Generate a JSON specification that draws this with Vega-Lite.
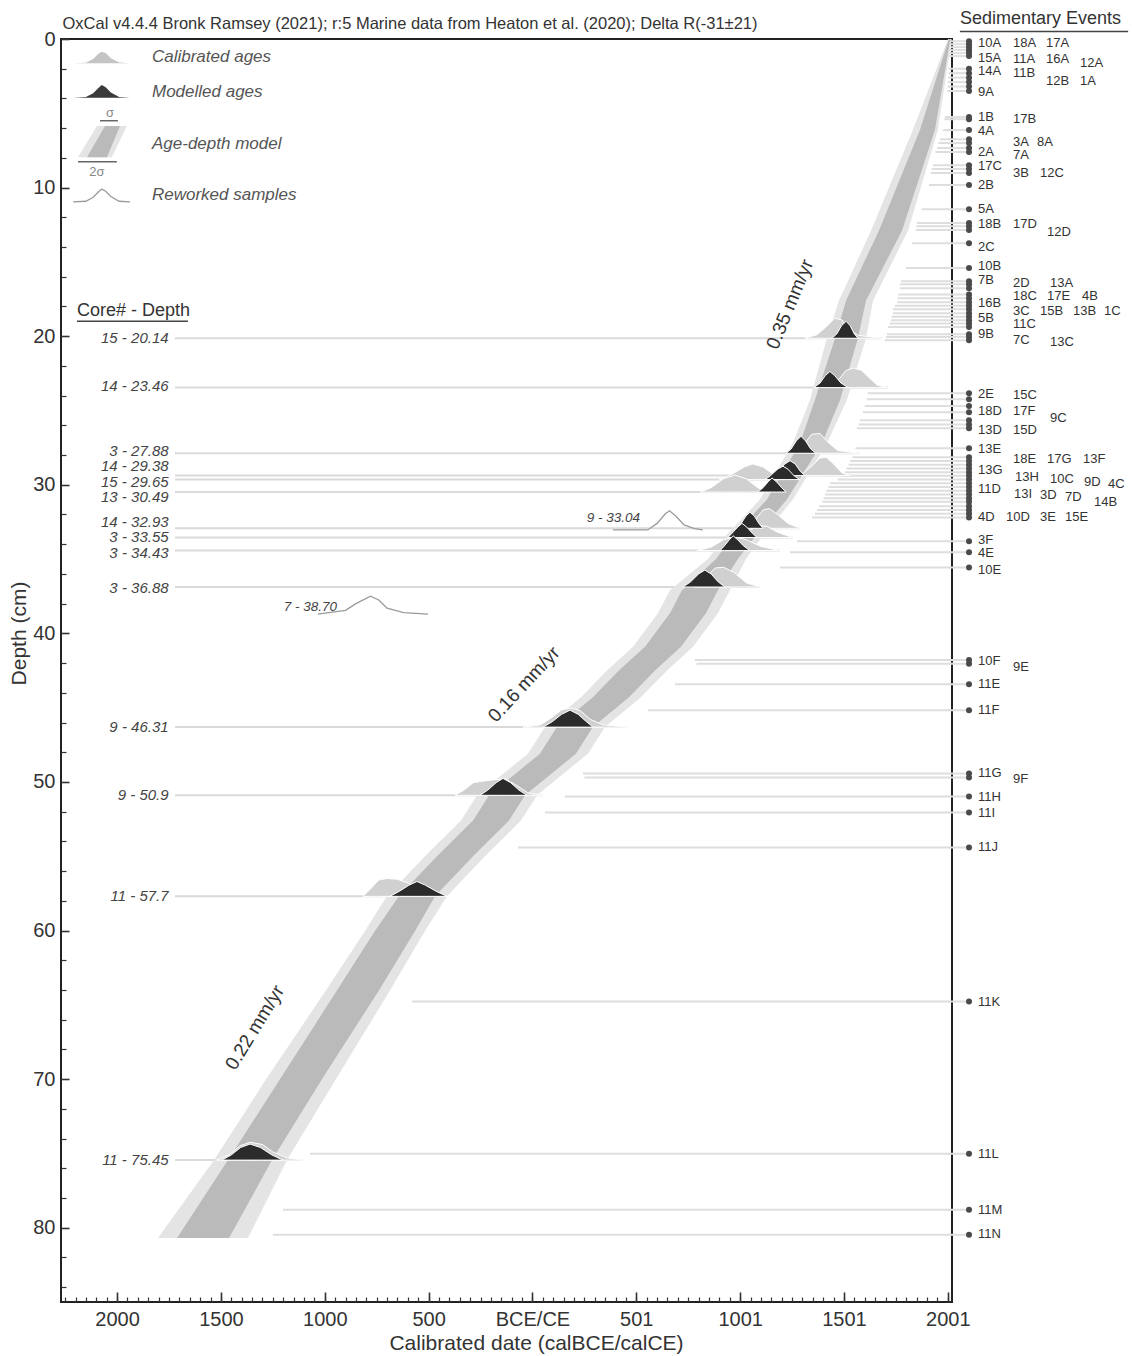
{
"$schema": "https://vega.github.io/schema/vega-lite/v6.json",
"width": 891, "height": 1263,
"autosize": {"type": "none"},
"padding": {"left": 61, "top": 39, "right": 180, "bottom": 54},
"background": "white",
"config": {"view": {"stroke": "#222", "strokeWidth": 2}},
"resolve": {"axis": {"x": "independent", "y": "independent"}},
"datasets": {
"samples": [
{"lab":"15 - 20.14","d":20.14,"ld":20.14,"end":1683},
{"lab":"14 - 23.46","d":23.46,"ld":23.35,"end":1712},
{"lab":"3 - 27.88","d":27.88,"ld":27.7,"end":1577},
{"lab":"14 - 29.38","d":29.38,"ld":28.76,"end":1530},
{"lab":"15 - 29.65","d":29.65,"ld":29.79,"end":1288},
{"lab":"13 - 30.49","d":30.49,"ld":30.84,"end":1221},
{"lab":"14 - 32.93","d":32.93,"ld":32.5,"end":1288},
{"lab":"3 - 33.55","d":33.55,"ld":33.53,"end":1254},
{"lab":"3 - 34.43","d":34.43,"ld":34.58,"end":1192},
{"lab":"3 - 36.88","d":36.88,"ld":36.97,"end":1095},
{"lab":"9 - 46.31","d":46.31,"ld":46.31,"end":455},
{"lab":"9 - 50.9","d":50.9,"ld":50.9,"end":51},
{"lab":"11 - 57.7","d":57.7,"ld":57.7,"end":-412},
{"lab":"11 - 75.45","d":75.45,"ld":75.45,"end":-1104}
],
"evlines": [
{"d":0.15,"s":2008},{"d":0.35,"s":2008},{"d":0.55,"s":2007},{"d":0.75,"s":2007},{"d":0.95,"s":2006},{"d":1.15,"s":2006},
{"d":2.0,"s":2003},{"d":2.3,"s":2002},{"d":2.6,"s":2001},{"d":2.9,"s":2000},{"d":3.2,"s":1999},{"d":3.5,"s":1998},
{"d":5.25,"s":1986},{"d":5.4,"s":1983},{"d":6.13,"s":1977},{"d":6.75,"s":1962},{"d":7.0,"s":1955},{"d":7.34,"s":1948},{"d":7.6,"s":1940},
{"d":8.5,"s":1928},{"d":8.75,"s":1922},{"d":9.02,"s":1919},{"d":9.83,"s":1909},{"d":11.45,"s":1875},{"d":12.39,"s":1851},{"d":12.6,"s":1849},
{"d":12.86,"s":1846},{"d":13.74,"s":1827},{"d":15.42,"s":1798},{"d":16.3,"s":1775},{"d":16.5,"s":1769},{"d":16.77,"s":1769},{"d":17.2,"s":1762},
{"d":17.45,"s":1758},{"d":17.71,"s":1755},{"d":17.95,"s":1745},{"d":18.18,"s":1736},{"d":18.45,"s":1736},{"d":18.7,"s":1730},{"d":18.92,"s":1726},
{"d":19.15,"s":1720},{"d":19.39,"s":1712},{"d":19.87,"s":1707},{"d":20.05,"s":1702},{"d":20.27,"s":1697},
{"d":23.84,"s":1615},{"d":24.24,"s":1610},{"d":24.7,"s":1600},{"d":25.12,"s":1591},{"d":25.66,"s":1577},{"d":25.95,"s":1570},{"d":26.2,"s":1562},{"d":27.54,"s":1555},
{"d":28.15,"s":1540},{"d":28.4,"s":1530},{"d":28.65,"s":1522},{"d":28.9,"s":1512},{"d":29.15,"s":1505},{"d":29.4,"s":1495},{"d":29.65,"s":1470},
{"d":29.9,"s":1432},{"d":30.15,"s":1425},{"d":30.4,"s":1415},{"d":30.65,"s":1408},{"d":30.9,"s":1402},{"d":31.15,"s":1395},{"d":31.45,"s":1380},
{"d":31.7,"s":1370},{"d":31.95,"s":1360},{"d":32.2,"s":1346},
{"d":33.8,"s":1274},{"d":34.55,"s":1240},{"d":35.56,"s":1192},
{"d":41.8,"s":782},{"d":42.05,"s":790},{"d":43.43,"s":686},{"d":45.18,"s":556},{"d":49.43,"s":243},{"d":49.7,"s":250},
{"d":50.98,"s":156},{"d":52.05,"s":60},{"d":54.41,"s":-70},{"d":64.78,"s":-580},{"d":75.02,"s":-1071},{"d":78.79,"s":-1201},{"d":80.47,"s":-1250}
],
"evtext": [
{"t":"10A","x":2145,"d":0.25},{"t":"18A","x":2314,"d":0.25},{"t":"17A","x":2473,"d":0.25},
{"t":"15A","x":2145,"d":1.3},{"t":"11A","x":2314,"d":1.35},{"t":"16A","x":2473,"d":1.35},{"t":"12A","x":2636,"d":1.62},
{"t":"14A","x":2145,"d":2.15},{"t":"11B","x":2314,"d":2.28},{"t":"12B","x":2473,"d":2.81},{"t":"1A","x":2636,"d":2.81},
{"t":"9A","x":2145,"d":3.55},
{"t":"1B","x":2145,"d":5.27},{"t":"17B","x":2314,"d":5.39},
{"t":"4A","x":2145,"d":6.2},
{"t":"3A","x":2314,"d":6.92},{"t":"8A","x":2429,"d":6.92},
{"t":"2A","x":2145,"d":7.59},{"t":"7A","x":2314,"d":7.8},
{"t":"17C","x":2145,"d":8.55},{"t":"3B","x":2314,"d":9.05},{"t":"12C","x":2444,"d":9.05},
{"t":"2B","x":2145,"d":9.83},
{"t":"5A","x":2145,"d":11.47},
{"t":"18B","x":2145,"d":12.46},{"t":"17D","x":2314,"d":12.46},{"t":"12D","x":2477,"d":12.98},
{"t":"2C","x":2145,"d":14.03},
{"t":"10B","x":2145,"d":15.27},
{"t":"7B","x":2145,"d":16.23},{"t":"2D","x":2314,"d":16.45},{"t":"13A","x":2492,"d":16.4},
{"t":"18C","x":2314,"d":17.3},{"t":"17E","x":2477,"d":17.3},{"t":"4B","x":2646,"d":17.3},
{"t":"16B","x":2145,"d":17.8},
{"t":"3C","x":2314,"d":18.3},{"t":"15B","x":2444,"d":18.3},{"t":"13B","x":2603,"d":18.3},{"t":"1C","x":2752,"d":18.3},
{"t":"5B","x":2145,"d":18.81},
{"t":"11C","x":2314,"d":19.15},
{"t":"9B","x":2145,"d":19.82},
{"t":"7C","x":2314,"d":20.27},{"t":"13C","x":2492,"d":20.38},
{"t":"2E","x":2145,"d":23.86},{"t":"15C","x":2314,"d":23.97},
{"t":"18D","x":2145,"d":25.03},{"t":"17F","x":2314,"d":25.03},{"t":"9C","x":2492,"d":25.48},
{"t":"13D","x":2145,"d":26.33},{"t":"15D","x":2314,"d":26.33},
{"t":"13E","x":2145,"d":27.56},
{"t":"18E","x":2314,"d":28.24},{"t":"17G","x":2477,"d":28.24},{"t":"13F","x":2651,"d":28.24},
{"t":"13G","x":2145,"d":29.02},
{"t":"13H","x":2323,"d":29.47},{"t":"10C","x":2492,"d":29.58},{"t":"9D","x":2656,"d":29.8},{"t":"4C","x":2771,"d":29.97},
{"t":"11D","x":2145,"d":30.26},
{"t":"13I","x":2319,"d":30.59},{"t":"3D","x":2444,"d":30.71},{"t":"7D","x":2564,"d":30.82},{"t":"14B","x":2704,"d":31.16},
{"t":"4D","x":2145,"d":32.17},{"t":"10D","x":2280,"d":32.17},{"t":"3E","x":2444,"d":32.17},{"t":"15E","x":2564,"d":32.17},
{"t":"3F","x":2145,"d":33.74},{"t":"4E","x":2145,"d":34.59},{"t":"10E","x":2145,"d":35.76},
{"t":"10F","x":2145,"d":41.89},{"t":"9E","x":2314,"d":42.29},
{"t":"11E","x":2145,"d":43.43},{"t":"11F","x":2145,"d":45.18},
{"t":"11G","x":2145,"d":49.43},{"t":"9F","x":2314,"d":49.83},
{"t":"11H","x":2145,"d":50.98},{"t":"11I","x":2145,"d":52.12},{"t":"11J","x":2145,"d":54.41},
{"t":"11K","x":2145,"d":64.78},{"t":"11L","x":2145,"d":75.02},{"t":"11M","x":2145,"d":78.79},{"t":"11N","x":2145,"d":80.4}
],
"band": [
{"d":0,"a":2001,"b":2005,"c":2012,"e":2018},
{"d":6.1,"a":1832,"b":1866,"c":1938,"e":1952},
{"d":12.9,"a":1630,"b":1668,"c":1779,"e":1808},
{"d":17.6,"a":1476,"b":1510,"c":1606,"e":1640},
{"d":20.14,"a":1418,"b":1457,"c":1567,"e":1606},
{"d":24.3,"a":1336,"b":1360,"c":1481,"e":1514},
{"d":27.2,"a":1254,"b":1288,"c":1394,"e":1418},
{"d":31.0,"a":1095,"b":1129,"c":1225,"e":1254},
{"d":33.5,"a":927,"b":961,"c":1071,"e":1105},
{"d":35,"a":845,"b":884,"c":989,"e":1028},
{"d":37.1,"a":662,"b":720,"c":893,"e":951},
{"d":38.65,"a":604,"b":662,"c":835,"e":893},
{"d":40.9,"a":484,"b":542,"c":715,"e":773},
{"d":42.5,"a":359,"b":416,"c":590,"e":648},
{"d":44.3,"a":234,"b":291,"c":465,"e":522},
{"d":46.3,"a":60,"b":118,"c":291,"e":349},
{"d":48.1,"a":-22,"b":36,"c":209,"e":267},
{"d":50.9,"a":-267,"b":-209,"c":-36,"e":22},
{"d":52.6,"a":-344,"b":-286,"c":-113,"e":-55},
{"d":55,"a":-518,"b":-460,"c":-286,"e":-229},
{"d":57.7,"a":-701,"b":-643,"c":-469,"e":-412},
{"d":60,"a":-805,"b":-757,"c":-564,"e":-516},
{"d":64,"a":-993,"b":-940,"c":-738,"e":-685},
{"d":70,"a":-1282,"b":-1215,"c":-1013,"e":-946},
{"d":75.45,"a":-1533,"b":-1466,"c":-1254,"e":-1182},
{"d":80.7,"a":-1803,"b":-1711,"c":-1461,"e":-1370}
],
"cal": [
{"id":"20.14","x":1312,"t":20.14,"b":20.14},{"id":"20.14","x":1370,"t":19.9,"b":20.14},{"id":"20.14","x":1420,"t":19.3,"b":20.14},{"id":"20.14","x":1455,"t":18.8,"b":20.14},{"id":"20.14","x":1490,"t":18.9,"b":20.14},{"id":"20.14","x":1520,"t":19.5,"b":20.14},{"id":"20.14","x":1570,"t":19.95,"b":20.14},{"id":"20.14","x":1683,"t":20.14,"b":20.14},
{"id":"23.46","x":1400,"t":23.46,"b":23.46},{"id":"23.46","x":1470,"t":23.0,"b":23.46},{"id":"23.46","x":1510,"t":22.3,"b":23.46},{"id":"23.46","x":1545,"t":22.15,"b":23.46},{"id":"23.46","x":1585,"t":22.3,"b":23.46},{"id":"23.46","x":1625,"t":22.85,"b":23.46},{"id":"23.46","x":1660,"t":23.3,"b":23.46},{"id":"23.46","x":1712,"t":23.46,"b":23.46},
{"id":"27.88","x":1240,"t":27.88,"b":27.88},{"id":"27.88","x":1300,"t":27.4,"b":27.88},{"id":"27.88","x":1345,"t":26.6,"b":27.88},{"id":"27.88","x":1385,"t":26.55,"b":27.88},{"id":"27.88","x":1420,"t":27.1,"b":27.88},{"id":"27.88","x":1470,"t":27.7,"b":27.88},{"id":"27.88","x":1577,"t":27.88,"b":27.88},
{"id":"29.38","x":1290,"t":29.38,"b":29.38},{"id":"29.38","x":1340,"t":28.8,"b":29.38},{"id":"29.38","x":1385,"t":28.2,"b":29.38},{"id":"29.38","x":1415,"t":28.15,"b":29.38},{"id":"29.38","x":1450,"t":28.6,"b":29.38},{"id":"29.38","x":1490,"t":29.2,"b":29.38},{"id":"29.38","x":1530,"t":29.38,"b":29.38},
{"id":"29.65","x":900,"t":29.65,"b":29.65},{"id":"29.65","x":960,"t":29.3,"b":29.65},{"id":"29.65","x":1020,"t":28.8,"b":29.65},{"id":"29.65","x":1060,"t":28.6,"b":29.65},{"id":"29.65","x":1110,"t":28.8,"b":29.65},{"id":"29.65","x":1160,"t":29.3,"b":29.65},{"id":"29.65","x":1220,"t":29.65,"b":29.65},
{"id":"30.49","x":808,"t":30.49,"b":30.49},{"id":"30.49","x":860,"t":30.2,"b":30.49},{"id":"30.49","x":920,"t":29.6,"b":30.49},{"id":"30.49","x":975,"t":29.35,"b":30.49},{"id":"30.49","x":1030,"t":29.6,"b":30.49},{"id":"30.49","x":1085,"t":30.2,"b":30.49},{"id":"30.49","x":1130,"t":30.49,"b":30.49},
{"id":"32.93","x":1030,"t":32.93,"b":32.93},{"id":"32.93","x":1070,"t":32.4,"b":32.93},{"id":"32.93","x":1110,"t":31.7,"b":32.93},{"id":"32.93","x":1140,"t":31.6,"b":32.93},{"id":"32.93","x":1180,"t":32.0,"b":32.93},{"id":"32.93","x":1230,"t":32.6,"b":32.93},{"id":"32.93","x":1288,"t":32.93,"b":32.93},
{"id":"33.55","x":980,"t":33.55,"b":33.55},{"id":"33.55","x":1040,"t":33.1,"b":33.55},{"id":"33.55","x":1090,"t":32.75,"b":33.55},{"id":"33.55","x":1130,"t":32.8,"b":33.55},{"id":"33.55","x":1180,"t":33.2,"b":33.55},{"id":"33.55","x":1254,"t":33.55,"b":33.55},
{"id":"34.43","x":792,"t":34.43,"b":34.43},{"id":"34.43","x":860,"t":34.2,"b":34.43},{"id":"34.43","x":920,"t":33.7,"b":34.43},{"id":"34.43","x":975,"t":33.5,"b":34.43},{"id":"34.43","x":1030,"t":33.7,"b":34.43},{"id":"34.43","x":1100,"t":34.15,"b":34.43},{"id":"34.43","x":1192,"t":34.43,"b":34.43},
{"id":"36.88","x":780,"t":36.88,"b":36.88},{"id":"36.88","x":830,"t":36.3,"b":36.88},{"id":"36.88","x":880,"t":35.6,"b":36.88},{"id":"36.88","x":920,"t":35.55,"b":36.88},{"id":"36.88","x":970,"t":35.9,"b":36.88},{"id":"36.88","x":1030,"t":36.6,"b":36.88},{"id":"36.88","x":1095,"t":36.88,"b":36.88},
{"id":"46.31","x":-46,"t":46.31,"b":46.31},{"id":"46.31","x":40,"t":46.15,"b":46.31},{"id":"46.31","x":90,"t":45.7,"b":46.31},{"id":"46.31","x":140,"t":45.15,"b":46.31},{"id":"46.31","x":185,"t":45.03,"b":46.31},{"id":"46.31","x":230,"t":45.2,"b":46.31},{"id":"46.31","x":280,"t":45.8,"b":46.31},{"id":"46.31","x":340,"t":46.15,"b":46.31},{"id":"46.31","x":455,"t":46.31,"b":46.31},
{"id":"50.9","x":-373,"t":50.9,"b":50.9},{"id":"50.9","x":-330,"t":50.55,"b":50.9},{"id":"50.9","x":-285,"t":50.05,"b":50.9},{"id":"50.9","x":-240,"t":49.95,"b":50.9},{"id":"50.9","x":-180,"t":49.85,"b":50.9},{"id":"50.9","x":-130,"t":49.8,"b":50.9},{"id":"50.9","x":-80,"t":50.2,"b":50.9},{"id":"50.9","x":-20,"t":50.75,"b":50.9},{"id":"50.9","x":51,"t":50.9,"b":50.9},
{"id":"57.7","x":-816,"t":57.7,"b":57.7},{"id":"57.7","x":-780,"t":57.2,"b":57.7},{"id":"57.7","x":-740,"t":56.6,"b":57.7},{"id":"57.7","x":-700,"t":56.5,"b":57.7},{"id":"57.7","x":-650,"t":56.55,"b":57.7},{"id":"57.7","x":-600,"t":56.8,"b":57.7},{"id":"57.7","x":-520,"t":57.4,"b":57.7},{"id":"57.7","x":-412,"t":57.7,"b":57.7},
{"id":"75.45","x":-1520,"t":75.45,"b":75.45},{"id":"75.45","x":-1460,"t":75.1,"b":75.45},{"id":"75.45","x":-1410,"t":74.5,"b":75.45},{"id":"75.45","x":-1360,"t":74.25,"b":75.45},{"id":"75.45","x":-1300,"t":74.4,"b":75.45},{"id":"75.45","x":-1250,"t":74.9,"b":75.45},{"id":"75.45","x":-1180,"t":75.3,"b":75.45},{"id":"75.45","x":-1104,"t":75.45,"b":75.45}
],
"mod": [
{"id":"20.14","x":1442,"t":20.14,"b":20.14},{"id":"20.14","x":1465,"t":19.85,"b":20.14},{"id":"20.14","x":1488,"t":19.3,"b":20.14},{"id":"20.14","x":1510,"t":19.0,"b":20.14},{"id":"20.14","x":1530,"t":19.3,"b":20.14},{"id":"20.14","x":1550,"t":19.85,"b":20.14},{"id":"20.14","x":1567,"t":20.14,"b":20.14},
{"id":"23.46","x":1355,"t":23.46,"b":23.46},{"id":"23.46","x":1385,"t":23.15,"b":23.46},{"id":"23.46","x":1410,"t":22.65,"b":23.46},{"id":"23.46","x":1432,"t":22.38,"b":23.46},{"id":"23.46","x":1455,"t":22.65,"b":23.46},{"id":"23.46","x":1485,"t":23.15,"b":23.46},{"id":"23.46","x":1519,"t":23.46,"b":23.46},
{"id":"27.88","x":1221,"t":27.88,"b":27.88},{"id":"27.88","x":1245,"t":27.6,"b":27.88},{"id":"27.88","x":1270,"t":27.05,"b":27.88},{"id":"27.88","x":1293,"t":26.74,"b":27.88},{"id":"27.88","x":1315,"t":27.05,"b":27.88},{"id":"27.88","x":1340,"t":27.6,"b":27.88},{"id":"27.88","x":1365,"t":27.88,"b":27.88},
{"id":"29.38","x":1153,"t":29.38,"b":29.38},{"id":"29.38","x":1180,"t":29.1,"b":29.38},{"id":"29.38","x":1215,"t":28.6,"b":29.38},{"id":"29.38","x":1240,"t":28.38,"b":29.38},{"id":"29.38","x":1265,"t":28.6,"b":29.38},{"id":"29.38","x":1290,"t":29.1,"b":29.38},{"id":"29.38","x":1312,"t":29.38,"b":29.38},
{"id":"29.65","x":1120,"t":29.65,"b":29.65},{"id":"29.65","x":1145,"t":29.4,"b":29.65},{"id":"29.65","x":1180,"t":28.95,"b":29.65},{"id":"29.65","x":1206,"t":28.75,"b":29.65},{"id":"29.65","x":1230,"t":28.95,"b":29.65},{"id":"29.65","x":1260,"t":29.4,"b":29.65},{"id":"29.65","x":1288,"t":29.65,"b":29.65},
{"id":"30.49","x":1085,"t":30.49,"b":30.49},{"id":"30.49","x":1110,"t":30.2,"b":30.49},{"id":"30.49","x":1135,"t":29.8,"b":30.49},{"id":"30.49","x":1153,"t":29.54,"b":30.49},{"id":"30.49","x":1175,"t":29.8,"b":30.49},{"id":"30.49","x":1200,"t":30.2,"b":30.49},{"id":"30.49","x":1221,"t":30.49,"b":30.49},
{"id":"32.93","x":985,"t":32.93,"b":32.93},{"id":"32.93","x":1005,"t":32.6,"b":32.93},{"id":"32.93","x":1028,"t":32.1,"b":32.93},{"id":"32.93","x":1047,"t":31.85,"b":32.93},{"id":"32.93","x":1068,"t":32.1,"b":32.93},{"id":"32.93","x":1090,"t":32.6,"b":32.93},{"id":"32.93","x":1110,"t":32.93,"b":32.93},
{"id":"33.55","x":941,"t":33.55,"b":33.55},{"id":"33.55","x":962,"t":33.25,"b":33.55},{"id":"33.55","x":988,"t":32.85,"b":33.55},{"id":"33.55","x":1009,"t":32.6,"b":33.55},{"id":"33.55","x":1032,"t":32.85,"b":33.55},{"id":"33.55","x":1058,"t":33.25,"b":33.55},{"id":"33.55","x":1081,"t":33.55,"b":33.55},
{"id":"34.43","x":903,"t":34.43,"b":34.43},{"id":"34.43","x":925,"t":34.1,"b":34.43},{"id":"34.43","x":948,"t":33.7,"b":34.43},{"id":"34.43","x":966,"t":33.43,"b":34.43},{"id":"34.43","x":988,"t":33.7,"b":34.43},{"id":"34.43","x":1015,"t":34.1,"b":34.43},{"id":"34.43","x":1047,"t":34.43,"b":34.43},
{"id":"36.88","x":724,"t":36.88,"b":36.88},{"id":"36.88","x":760,"t":36.55,"b":36.88},{"id":"36.88","x":800,"t":36.0,"b":36.88},{"id":"36.88","x":830,"t":35.74,"b":36.88},{"id":"36.88","x":860,"t":36.0,"b":36.88},{"id":"36.88","x":895,"t":36.55,"b":36.88},{"id":"36.88","x":927,"t":36.88,"b":36.88},
{"id":"46.31","x":51,"t":46.31,"b":46.31},{"id":"46.31","x":95,"t":45.95,"b":46.31},{"id":"46.31","x":140,"t":45.45,"b":46.31},{"id":"46.31","x":181,"t":45.17,"b":46.31},{"id":"46.31","x":220,"t":45.45,"b":46.31},{"id":"46.31","x":260,"t":45.95,"b":46.31},{"id":"46.31","x":291,"t":46.31,"b":46.31},
{"id":"50.9","x":-253,"t":50.9,"b":50.9},{"id":"50.9","x":-215,"t":50.55,"b":50.9},{"id":"50.9","x":-175,"t":50.05,"b":50.9},{"id":"50.9","x":-142,"t":49.76,"b":50.9},{"id":"50.9","x":-105,"t":50.05,"b":50.9},{"id":"50.9","x":-65,"t":50.55,"b":50.9},{"id":"50.9","x":-26,"t":50.9,"b":50.9},
{"id":"57.7","x":-686,"t":57.7,"b":57.7},{"id":"57.7","x":-640,"t":57.35,"b":57.7},{"id":"57.7","x":-595,"t":56.95,"b":57.7},{"id":"57.7","x":-556,"t":56.7,"b":57.7},{"id":"57.7","x":-515,"t":56.95,"b":57.7},{"id":"57.7","x":-465,"t":57.35,"b":57.7},{"id":"57.7","x":-412,"t":57.7,"b":57.7},
{"id":"75.45","x":-1495,"t":75.45,"b":75.45},{"id":"75.45","x":-1450,"t":75.1,"b":75.45},{"id":"75.45","x":-1405,"t":74.6,"b":75.45},{"id":"75.45","x":-1360,"t":74.37,"b":75.45},{"id":"75.45","x":-1310,"t":74.6,"b":75.45},{"id":"75.45","x":-1255,"t":75.1,"b":75.45},{"id":"75.45","x":-1201,"t":75.45,"b":75.45}
],
"rew": [
{"id":"33.04","x":387,"t":33.04},{"id":"33.04","x":555,"t":33.04},{"id":"33.04","x":600,"t":32.6},{"id":"33.04","x":640,"t":31.95},{"id":"33.04","x":660,"t":31.75},{"id":"33.04","x":690,"t":32.1},{"id":"33.04","x":730,"t":32.7},{"id":"33.04","x":780,"t":32.95},{"id":"33.04","x":820,"t":33.04},
{"id":"38.70","x":-1033,"t":38.7},{"id":"38.70","x":-900,"t":38.45},{"id":"38.70","x":-850,"t":38.0},{"id":"38.70","x":-780,"t":37.5},{"id":"38.70","x":-740,"t":37.75},{"id":"38.70","x":-700,"t":38.3},{"id":"38.70","x":-620,"t":38.6},{"id":"38.70","x":-503,"t":38.7}
],
"legcal": [
{"x":-2212,"t":1.64,"b":1.64},{"x":-2150,"t":1.6,"b":1.64},{"x":-2115,"t":1.35,"b":1.64},{"x":-2090,"t":1.0,"b":1.64},{"x":-2074,"t":0.85,"b":1.64},{"x":-2055,"t":0.95,"b":1.64},{"x":-2030,"t":1.3,"b":1.64},{"x":-1990,"t":1.58,"b":1.64},{"x":-1938,"t":1.64,"b":1.64}
],
"legmod": [
{"x":-2212,"t":3.95,"b":3.95},{"x":-2150,"t":3.9,"b":3.95},{"x":-2115,"t":3.65,"b":3.95},{"x":-2090,"t":3.3,"b":3.95},{"x":-2074,"t":3.1,"b":3.95},{"x":-2055,"t":3.25,"b":3.95},{"x":-2030,"t":3.6,"b":3.95},{"x":-1990,"t":3.9,"b":3.95},{"x":-1938,"t":3.95,"b":3.95}
],
"legrew": [
{"x":-2212,"t":10.96},{"x":-2150,"t":10.92},{"x":-2115,"t":10.65},{"x":-2090,"t":10.3},{"x":-2074,"t":10.1},{"x":-2055,"t":10.25},{"x":-2030,"t":10.6},{"x":-1990,"t":10.92},{"x":-1938,"t":10.96}
],
"legband": [
{"d":5.86,"l2":-2097,"l1":-2058,"r1":-1986,"r2":-1953},
{"d":7.95,"l2":-2188,"l1":-2145,"r1":-2049,"r2":-2025}
],
"legtext": [
{"t":"Calibrated ages","x":-1832,"d":1.19},
{"t":"Modelled ages","x":-1832,"d":3.55},
{"t":"Age-depth model","x":-1832,"d":7.07},
{"t":"Reworked samples","x":-1832,"d":10.5}
],
"segs": [
{"x":-2082,"x2":-1996,"d":5.5},
{"x":-2188,"x2":-2001,"d":8.26}
],
"sig": [
{"t":"σ","x":-2034,"d":5.0},
{"t":"2σ","x":-2097,"d":8.95}
],
"rwlab": [
{"t":"9 - 33.04","x":518,"d":32.26},
{"t":"7 - 38.70","x":-941,"d":38.25}
],
"heads": [
{"t":"Sedimentary Events","x":2058,"d":-1.35},
{"t":"Core# - Depth","x":-2193,"d":18.32}
],
"underl": [
{"x":2058,"x2":2868,"d":-0.5},
{"x":-2193,"x2":-1659,"d":19.0}
]
},
"layer": [
{"data":{"name":"samples"},"mark":{"type":"rule","color":"#dadada","strokeWidth":2},
 "encoding":{
  "x":{"field":"end","type":"quantitative","scale":{"domain":[-2270,2020],"nice":false,"zero":false},
   "axis":{"orient":"bottom","values":[-2000,-1500,-1000,-500,0,500,1000,1500,2000],
    "labelExpr":"datum.value < 0 ? '' + (-datum.value) : (datum.value == 0 ? 'BCE/CE' : '' + (datum.value + 1))",
    "tickSize":-10,"tickWidth":1.6,"tickColor":"#333","domain":false,"grid":false,"labelPadding":17,
    "labelFont":"Liberation Sans","labelFontSize":20,"labelColor":"#333","labelFlush":false,"labelOverlap":false,
    "title":"Calibrated date (calBCE/calCE)","titleFont":"Liberation Sans","titleFontSize":21,"titleFontWeight":"normal","titleColor":"#333","titlePadding":3,"titleX":475}},
  "x2":{"datum":-1721},
  "y":{"field":"d","type":"quantitative","scale":{"domain":[0,85],"reverse":true,"nice":false,"zero":false},
   "axis":{"orient":"left","values":[0,10,20,30,40,50,60,70,80],"tickSize":-8,"tickWidth":1.6,"tickColor":"#333","domain":false,"grid":false,"labelPadding":14,
    "labelFont":"Liberation Sans","labelFontSize":20,"labelColor":"#333","labelFlush":false,"labelOverlap":false,
    "title":"Depth (cm)","titleFont":"Liberation Sans","titleFontSize":21,"titleFontWeight":"normal","titleColor":"#333","titlePadding":3,"titleY":594}}
 }},
{"data":{"name":"evlines"},"mark":{"type":"rule","color":"#dedede","strokeWidth":2},
 "encoding":{
  "x":{"field":"s","type":"quantitative",
   "axis":{"orient":"bottom","values":[-2250,-2200,-2150,-2100,-2050,-2000,-1950,-1900,-1850,-1800,-1750,-1700,-1650,-1600,-1550,-1500,-1450,-1400,-1350,-1300,-1250,-1200,-1150,-1100,-1050,-1000,-950,-900,-850,-800,-750,-700,-650,-600,-550,-500,-450,-400,-350,-300,-250,-200,-150,-100,-50,0,50,100,150,200,250,300,350,400,450,500,550,600,650,700,750,800,850,900,950,1000,1050,1100,1150,1200,1250,1300,1350,1400,1450,1500,1550,1600,1650,1700,1750,1800,1850,1900,1950,2000],
    "tickSize":-5,"tickWidth":1.2,"tickColor":"#333","labels":false,"domain":false,"grid":false,"title":null}},
  "x2":{"datum":2102},
  "y":{"field":"d","type":"quantitative",
   "axis":{"orient":"left","values":[2,4,6,8,12,14,16,18,22,24,26,28,32,34,36,38,42,44,46,48,52,54,56,58,62,64,66,68,72,74,76,78,82,84],
    "tickSize":-5,"tickWidth":1.2,"tickColor":"#333","labels":false,"domain":false,"grid":false,"title":null}}
 }},
{"data":{"name":"band"},"mark":{"type":"area","orient":"horizontal","color":"#e4e4e4"},
 "encoding":{"y":{"field":"d","type":"quantitative","axis":null},"x":{"field":"a","type":"quantitative","axis":null},"x2":{"field":"e"}}},
{"data":{"name":"band"},"mark":{"type":"area","orient":"horizontal","color":"#bababa"},
 "encoding":{"y":{"field":"d","type":"quantitative","axis":null},"x":{"field":"b","type":"quantitative","axis":null},"x2":{"field":"c"}}},
{"data":{"name":"cal"},"mark":{"type":"area","orient":"vertical","color":"#d0d0d0","stroke":"white","strokeWidth":1},
 "encoding":{"x":{"field":"x","type":"quantitative","axis":null},"y":{"field":"t","type":"quantitative","axis":null},"y2":{"field":"b"},"detail":{"field":"id","type":"nominal"}}},
{"data":{"name":"mod"},"mark":{"type":"area","orient":"vertical","color":"#2b2b2b","stroke":"white","strokeWidth":1},
 "encoding":{"x":{"field":"x","type":"quantitative","axis":null},"y":{"field":"t","type":"quantitative","axis":null},"y2":{"field":"b"},"detail":{"field":"id","type":"nominal"}}},
{"data":{"name":"rew"},"mark":{"type":"line","color":"#9a9a9a","strokeWidth":1.3},
 "encoding":{"x":{"field":"x","type":"quantitative","axis":null},"y":{"field":"t","type":"quantitative","axis":null},"detail":{"field":"id","type":"nominal"}}},
{"data":{"name":"legcal"},"mark":{"type":"area","orient":"vertical","color":"#c4c4c4"},
 "encoding":{"x":{"field":"x","type":"quantitative","axis":null},"y":{"field":"t","type":"quantitative","axis":null},"y2":{"field":"b"}}},
{"data":{"name":"legmod"},"mark":{"type":"area","orient":"vertical","color":"#3a3a3a"},
 "encoding":{"x":{"field":"x","type":"quantitative","axis":null},"y":{"field":"t","type":"quantitative","axis":null},"y2":{"field":"b"}}},
{"data":{"name":"legrew"},"mark":{"type":"line","color":"#9a9a9a","strokeWidth":1.3},
 "encoding":{"x":{"field":"x","type":"quantitative","axis":null},"y":{"field":"t","type":"quantitative","axis":null}}},
{"data":{"name":"legband"},"mark":{"type":"area","orient":"horizontal","color":"#e4e4e4"},
 "encoding":{"y":{"field":"d","type":"quantitative","axis":null},"x":{"field":"l2","type":"quantitative","axis":null},"x2":{"field":"r2"}}},
{"data":{"name":"legband"},"mark":{"type":"area","orient":"horizontal","color":"#bababa"},
 "encoding":{"y":{"field":"d","type":"quantitative","axis":null},"x":{"field":"l1","type":"quantitative","axis":null},"x2":{"field":"r1"}}},
{"data":{"name":"segs"},"mark":{"type":"rule","color":"#666","strokeWidth":1.5},
 "encoding":{"x":{"field":"x","type":"quantitative","axis":null},"x2":{"field":"x2"},"y":{"field":"d","type":"quantitative","axis":null}}},
{"data":{"name":"sig"},"mark":{"type":"text","align":"center","baseline":"middle","font":"Liberation Sans","fontSize":13,"color":"#888"},
 "encoding":{"x":{"field":"x","type":"quantitative","axis":null},"y":{"field":"d","type":"quantitative","axis":null},"text":{"field":"t"}}},
{"data":{"name":"legtext"},"mark":{"type":"text","align":"left","baseline":"middle","font":"Liberation Sans","fontStyle":"italic","fontSize":17,"color":"#555"},
 "encoding":{"x":{"field":"x","type":"quantitative","axis":null},"y":{"field":"d","type":"quantitative","axis":null},"text":{"field":"t"}}},
{"data":{"name":"samples"},"mark":{"type":"text","align":"right","baseline":"middle","font":"Liberation Sans","fontStyle":"italic","fontSize":15,"color":"#444"},
 "encoding":{"x":{"datum":-1752,"type":"quantitative","axis":null},"y":{"field":"ld","type":"quantitative","axis":null},"text":{"field":"lab"}}},
{"data":{"name":"rwlab"},"mark":{"type":"text","align":"right","baseline":"middle","font":"Liberation Sans","fontStyle":"italic","fontSize":13.5,"color":"#444"},
 "encoding":{"x":{"field":"x","type":"quantitative","axis":null},"y":{"field":"d","type":"quantitative","axis":null},"text":{"field":"t"}}},
{"data":{"values":[{"t":"0.35 mm/yr","x":1240,"d":17.85}]},"mark":{"type":"text","align":"center","baseline":"middle","angle":292.4,"font":"Liberation Sans","fontSize":19,"color":"#333"},
 "encoding":{"x":{"field":"x","type":"quantitative","axis":null},"y":{"field":"d","type":"quantitative","axis":null},"text":{"field":"t"}}},
{"data":{"values":[{"t":"0.16 mm/yr","x":-41,"d":43.43}]},"mark":{"type":"text","align":"center","baseline":"middle","angle":313,"font":"Liberation Sans","fontSize":19,"color":"#333"},
 "encoding":{"x":{"field":"x","type":"quantitative","axis":null},"y":{"field":"d","type":"quantitative","axis":null},"text":{"field":"t"}}},
{"data":{"values":[{"t":"0.22 mm/yr","x":-1336,"d":66.53}]},"mark":{"type":"text","align":"center","baseline":"middle","angle":301.4,"font":"Liberation Sans","fontSize":19,"color":"#333"},
 "encoding":{"x":{"field":"x","type":"quantitative","axis":null},"y":{"field":"d","type":"quantitative","axis":null},"text":{"field":"t"}}},
{"data":{"values":[{"t":"OxCal v4.4.4 Bronk Ramsey (2021); r:5 Marine data from Heaton et al. (2020); Delta R(-31±21)","x":-2263,"d":-1.0}]},
 "mark":{"type":"text","align":"left","baseline":"middle","font":"Liberation Sans","fontSize":16.5,"color":"#333"},
 "encoding":{"x":{"field":"x","type":"quantitative","axis":null},"y":{"field":"d","type":"quantitative","axis":null},"text":{"field":"t"}}},
{"data":{"name":"heads"},"mark":{"type":"text","align":"left","baseline":"middle","font":"Liberation Sans","fontSize":18,"color":"#333"},
 "encoding":{"x":{"field":"x","type":"quantitative","axis":null},"y":{"field":"d","type":"quantitative","axis":null},"text":{"field":"t"}}},
{"data":{"name":"underl"},"mark":{"type":"rule","color":"#444","strokeWidth":1.5},
 "encoding":{"x":{"field":"x","type":"quantitative","axis":null},"x2":{"field":"x2"},"y":{"field":"d","type":"quantitative","axis":null}}},
{"data":{"name":"evlines"},"mark":{"type":"circle","color":"#4a4a4a","opacity":1,"size":36},
 "encoding":{"x":{"datum":2102,"type":"quantitative","axis":null},"y":{"field":"d","type":"quantitative","axis":null}}},
{"data":{"name":"evtext"},"mark":{"type":"text","align":"left","baseline":"middle","font":"Liberation Sans","fontSize":13,"color":"#333"},
 "encoding":{"x":{"field":"x","type":"quantitative","axis":null},"y":{"field":"d","type":"quantitative","axis":null},"text":{"field":"t"}}}
]
}
